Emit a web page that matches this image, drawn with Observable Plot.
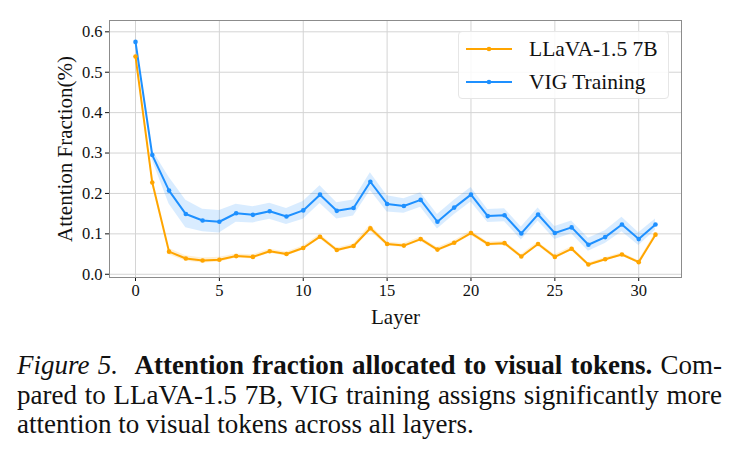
<!DOCTYPE html>
<html>
<head>
<meta charset="utf-8">
<script src="https://cdn.jsdelivr.net/npm/d3@7"></script>
<script src="https://cdn.jsdelivr.net/npm/@observablehq/plot@0.6"></script>
<style>
  html, body { margin: 0; padding: 0; background: #fff; }
  body { width: 739px; height: 454px; position: relative; overflow: hidden; font-family: "Liberation Serif", "DejaVu Serif", serif; }
  #chart { position: absolute; left: 0; top: 0; }
  #legend { position: absolute; left: 458px; top: 31px; width: 211px; height: 68px; border: 1px solid #e6e6e6; border-radius: 4px; background: rgba(255,255,255,0.85); box-sizing: border-box; }
  .lg { position: absolute; left: 6px; height: 30px; display: flex; align-items: center; font-size: 21.5px; color: #111; }
  .lg svg { margin-right: 16px; }
  #caption { position: absolute; left: 17px; top: 351px; width: 705px; font-size: 27px; line-height: 29.5px; color: #111; font-family: "Liberation Serif", serif; }
  .j { text-align: justify; text-align-last: justify; white-space: nowrap; }
</style>
</head>
<body>
<div id="chart"></div>
<div id="legend"></div>
<div id="caption">
  <div class="j"><i>Figure 5.</i>&nbsp; <b>Attention fraction allocated to visual tokens.</b> Com-</div>
  <div class="j">pared to LLaVA-1.5 7B, VIG training assigns significantly more</div>
  <div>attention to visual tokens across all layers.</div>
</div>
<script>
const layers = [0,1,2,3,4,5,6,7,8,9,10,11,12,13,14,15,16,17,18,19,20,21,22,23,24,25,26,27,28,29,30,31];
const seriesNames = ["LLaVA-1.5 7B", "VIG Training"];
const seriesColors = ["#FFA500", "#1E90FF"];
const llavaValues = [0.539,0.227,0.056,0.039,0.034,0.036,0.045,0.043,0.057,0.050,0.065,0.093,0.060,0.070,0.114,0.075,0.071,0.087,0.061,0.078,0.102,0.075,0.077,0.044,0.075,0.043,0.063,0.024,0.037,0.049,0.030,0.098];
const llavaErr   = [0.003,0.006,0.008,0.007,0.006,0.006,0.005,0.005,0.005,0.005,0.005,0.006,0.005,0.005,0.008,0.005,0.005,0.005,0.005,0.005,0.006,0.005,0.005,0.005,0.005,0.005,0.005,0.004,0.004,0.004,0.004,0.005];
const vigValues  = [0.575,0.295,0.207,0.149,0.133,0.130,0.151,0.147,0.156,0.143,0.158,0.197,0.157,0.164,0.229,0.174,0.169,0.184,0.130,0.165,0.197,0.144,0.146,0.101,0.148,0.102,0.116,0.073,0.092,0.123,0.087,0.123];
const vigErr     = [0.004,0.012,0.033,0.034,0.028,0.028,0.022,0.020,0.020,0.020,0.022,0.022,0.020,0.020,0.022,0.020,0.018,0.018,0.018,0.018,0.018,0.016,0.016,0.016,0.016,0.016,0.016,0.016,0.016,0.018,0.016,0.014];
const xTicks = [0,5,10,15,20,25,30];
const yTicks = [0.0,0.1,0.2,0.3,0.4,0.5,0.6];

const rows = [];
layers.forEach((l, i) => {
  rows.push({layer: l, value: llavaValues[i], err: llavaErr[i], series: seriesNames[0]});
  rows.push({layer: l, value: vigValues[i], err: vigErr[i], series: seriesNames[1]});
});

const chart = Plot.plot({
  width: 739,
  height: 335,
  marginLeft: 109,
  marginRight: 58,
  marginTop: 20,
  marginBottom: 58,
  style: { fontFamily: "Liberation Serif, serif", fontSize: "16.5px", color: "#111", background: "#fff" },
  x: { domain: [-1.55, 32.55], ticks: xTicks, tickSize: 4, tickPadding: 3, label: "Layer", labelArrow: "none", labelAnchor: "center", labelOffset: 46 },
  y: { domain: [-0.008, 0.628], ticks: yTicks, tickFormat: d3.format(".1f"), tickSize: 4, tickPadding: 3, label: "Attention Fraction(%)", labelArrow: "none", labelAnchor: "center", labelOffset: 52 },
  color: { domain: seriesNames, range: seriesColors },
  marks: [
    Plot.gridX(xTicks, { stroke: "#d4d4d4", strokeOpacity: 1, strokeWidth: 1 }),
    Plot.gridY(yTicks, { stroke: "#d4d4d4", strokeOpacity: 1, strokeWidth: 1 }),
    Plot.areaY(rows, { x: "layer", y1: d => d.value - d.err, y2: d => d.value + d.err, z: "series", fill: "series", fillOpacity: 0.17 }),
    Plot.lineY(rows, { x: "layer", y: "value", z: "series", stroke: "series", strokeWidth: 2 }),
    Plot.dot(rows, { x: "layer", y: "value", fill: "series", r: 2.3 }),
    Plot.frame({ stroke: "#8c8c8c", strokeWidth: 1 })
  ]
});
chart.querySelectorAll("text").forEach(t => {
  const s = t.textContent;
  if (s.startsWith("Attention") || s.startsWith("Layer")) {
    t.textContent = s.replace(/\s*[→↑←↓]\s*/g, "");
    t.style.fontSize = "21px";
  }
});
document.getElementById("chart").appendChild(chart);

const legend = document.getElementById("legend");
seriesNames.forEach((name, i) => {
  const row = document.createElement("div");
  row.className = "lg";
  row.style.top = (i === 0 ? 2 : 35) + "px";
  row.innerHTML = `<svg width="48" height="10"><line x1="1" x2="47" y1="5" y2="5" stroke="${seriesColors[i]}" stroke-width="2"/><circle cx="24" cy="5" r="2.3" fill="${seriesColors[i]}"/></svg><span>${name}</span>`;
  legend.appendChild(row);
});
</script>
</body>
</html>
